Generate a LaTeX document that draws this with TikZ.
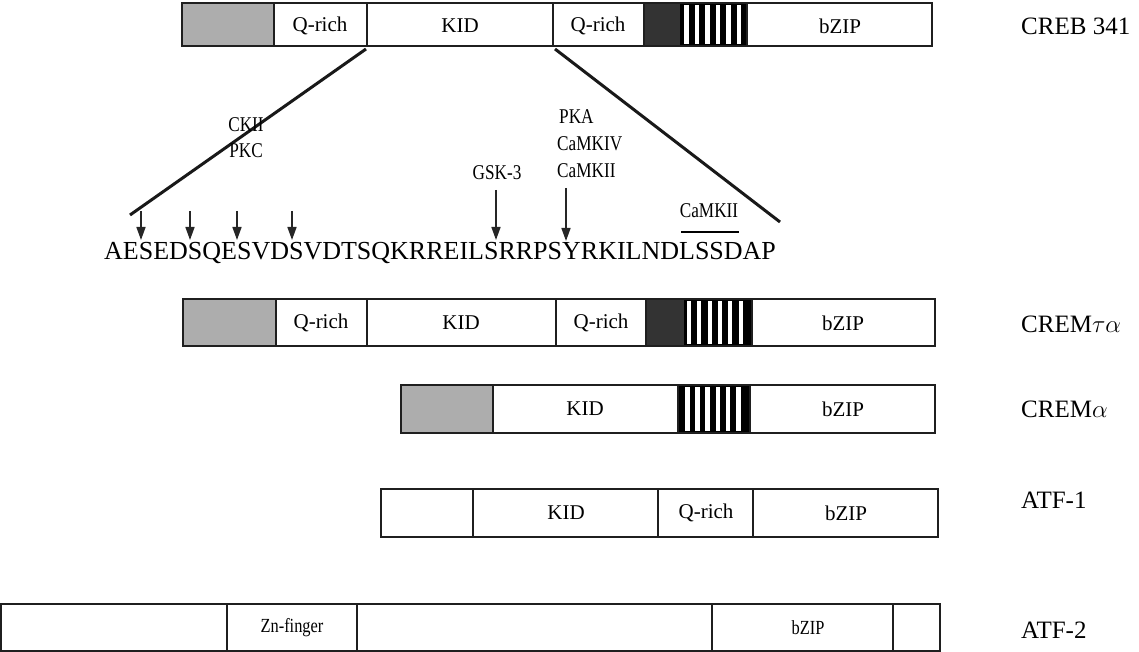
\documentclass[tikz,border=0pt]{standalone}
\usepackage{fontspec}
\setmainfont{Liberation Serif}
\newfontfamily\narrowserif[FakeStretch=0.82]{Liberation Serif}
\usetikzlibrary{arrows.meta}
\definecolor{graybox}{gray}{0.68}
\definecolor{darkbox}{gray}{0.2}
\definecolor{edge}{gray}{0.12}
\newcommand{\fsz}[1]{\fontsize{#1}{#1}\selectfont}
\tikzset{
  segbox/.style={draw=edge, line width=2.4pt},
  seglab/.style={font=\fsz{21}, inner sep=0pt},
  rowlab/.style={font=\fsz{25}, anchor=west, inner sep=0pt},
  kinlab/.style={font=\narrowserif\fsz{21}, inner sep=0pt},
  seqlab/.style={font=\fsz{26}, inner sep=0pt},
  zoomline/.style={draw=black!90, line width=3pt},
  siteArrow/.style={draw=black!85, line width=1.6pt, -{Triangle[length=13pt,width=9pt]}},
}
\begin{document}
\begin{tikzpicture}[x=1pt,y=-1pt]
\useasboundingbox (0,0) rectangle (1139,652);

% ---------- CREB 341 ----------
\fill[graybox] (182,3) rectangle (274,46);
\fill[darkbox] (644,3) rectangle (680,46);
\fill[black] (680,3) rectangle (747,46);
\foreach \s in {0,...,5} \fill[white] (684+10.5*\s,5) rectangle (688.5+10.5*\s,44);
\draw[segbox] (182,3) rectangle (274,46);
\draw[segbox] (274,3) rectangle (367,46);
\draw[segbox] (367,3) rectangle (553,46);
\draw[segbox] (553,3) rectangle (644,46);
\draw[segbox] (644,3) rectangle (747,46);
\draw[segbox] (747,3) rectangle (932,46);
\node[seglab] (c1) at (320,26) {Q-rich};
\node[seglab] (c2) at (460,26) {KID};
\node[seglab] (c3) at (598,26) {Q-rich};
\node[seglab] (c4) at (840,26) {bZIP};
\node[rowlab] (creb) at (1021,26) {CREB 341};
\coordinate (kidL) at (366,49);
\coordinate (kidR) at (555,49);
\coordinate (endL) at (130,215);
\coordinate (endR) at (780,222);
\draw[zoomline] (kidL) -- (endL);
\draw[zoomline] (kidR) -- (endR);

% ---------- phosphorylation sites ----------
\node[kinlab] (ckii) at (246,125) {CKII};
\node[kinlab] (pkc) at (246,151) {PKC};
\node[kinlab, anchor=west] (pka) at (559,117) {PKA};
\node[kinlab, anchor=west] (camkiv) at (557,144) {CaMKIV};
\node[kinlab, anchor=west] (camkii) at (557,171) {CaMKII};
\node[kinlab] (gsk) at (497,173) {GSK-3};
\node[kinlab] (camkii2) at (709,211) {CaMKII};
\node[seqlab, anchor=west] (seq) at (104,253) {AESEDSQESVDSVDTSQKRREILSRRPSYRKILNDLSSDAP};
\foreach \x/\n in {141/a1,190/a2,237/a3,292/a4}{
  \coordinate (\n t) at (\x,211);
  \coordinate (\n b) at (\x,240);
  \draw[siteArrow] (\n t) -- (\n b);
}
\coordinate (g1) at (496,190);
\coordinate (g2) at (496,240);
\draw[siteArrow] (g1) -- (g2);
\coordinate (p1) at (566,188);
\coordinate (p2) at (566,241);
\draw[siteArrow] (p1) -- (p2);
\coordinate (u1) at (681,232);
\coordinate (u2) at (739,232);
\draw[line width=2.6pt] (u1) -- (u2);

% ---------- CREM tau alpha ----------
\fill[graybox] (183,299) rectangle (276,346);
\fill[darkbox] (646,299) rectangle (684,346);
\fill[black] (684,299) rectangle (752,346);
\foreach \s in {0,...,5} \fill[white] (687+10.3*\s,301) rectangle (691+10.3*\s,344);
\draw[segbox] (183,299) rectangle (276,346);
\draw[segbox] (276,299) rectangle (367,346);
\draw[segbox] (367,299) rectangle (556,346);
\draw[segbox] (556,299) rectangle (646,346);
\draw[segbox] (646,299) rectangle (752,346);
\draw[segbox] (752,299) rectangle (935,346);
\node[seglab] (t1) at (321,323) {Q-rich};
\node[seglab] (t2) at (461,323) {KID};
\node[seglab] (t3) at (601,323) {Q-rich};
\node[seglab] (t4) at (843,323) {bZIP};
\node[rowlab] (cremta) at (1021,324) {CREM$\tau\alpha$};

% ---------- CREM alpha ----------
\fill[graybox] (401,385) rectangle (493,433);
\fill[black] (678,385) rectangle (750,433);
\foreach \s in {0,...,5} \fill[white] (685+10.2*\s,387) rectangle (689.5+10.2*\s,431);
\draw[segbox] (401,385) rectangle (493,433);
\draw[segbox] (493,385) rectangle (678,433);
\draw[segbox] (678,385) rectangle (750,433);
\draw[segbox] (750,385) rectangle (935,433);
\node[seglab] (m1) at (585,409) {KID};
\node[seglab] (m2) at (843,409) {bZIP};
\node[rowlab] (crema) at (1021,409) {CREM$\alpha$};

% ---------- ATF-1 ----------
\draw[segbox] (381,489) rectangle (473,537);
\draw[segbox] (473,489) rectangle (658,537);
\draw[segbox] (658,489) rectangle (753,537);
\draw[segbox] (753,489) rectangle (938,537);
\node[seglab] (f1) at (566,513) {KID};
\node[seglab] (f2) at (706,513) {Q-rich};
\node[seglab] (f3) at (846,513) {bZIP};
\node[rowlab] (atf1) at (1021,500) {ATF-1};

% ---------- ATF-2 ----------
\draw[segbox] (1,604) rectangle (227,651);
\draw[segbox] (227,604) rectangle (357,651);
\draw[segbox] (357,604) rectangle (712,651);
\draw[segbox] (712,604) rectangle (893,651);
\draw[segbox] (893,604) rectangle (940,651);
\node[seglab, font=\narrowserif\fsz{20}] (z1) at (292,628) {Zn-finger};
\node[seglab, font=\narrowserif\fsz{20}] (z2) at (808,628) {bZIP};
\node[rowlab] (atf2) at (1021,630) {ATF-2};
\end{tikzpicture}
\end{document}
